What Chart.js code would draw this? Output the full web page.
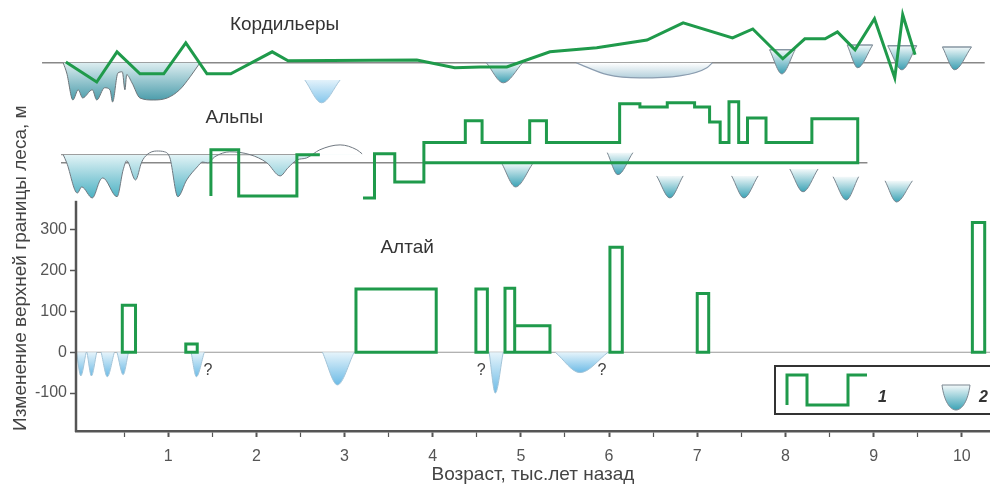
<!DOCTYPE html>
<html lang="ru">
<head>
  <meta charset="UTF-8">
  <title>Изменение верхней границы леса</title>
  <script src="https://cdn.jsdelivr.net/npm/chart.js"></script>
  <style>
    body { margin: 0; background: #fff; }
    canvas { display: block; }
  </style>
</head>
<body>
  <canvas id="grafico" width="990" height="484"></canvas>
  <script>
    // ось X: возраст, тыс. лет назад
    const xMin = -0.045, xMax = 10.32;
    const xTicks = [0.5, 1, 1.5, 2, 2.5, 3, 3.5, 4, 4.5, 5, 5.5, 6, 6.5, 7, 7.5, 8, 8.5, 9, 9.5, 10];
    const yTicks = [-100, 0, 100, 200, 300];
    const yAxisTop = 371;

    // Кордильеры: граница леса [возраст, изменение]
    const cordLine = [[-0.16, 2], [0.19, -47], [0.42, 27], [0.68, -27], [0.95, -27], [1.20, 49], [1.44, -27], [1.71, -27],
      [2.18, 27], [2.36, 5], [3.82, 7], [4.25, -12], [4.54, -10], [4.84, -10], [5.33, 27], [5.86, 37], [6.43, 56],
      [6.84, 98], [7.40, 61], [7.63, 83], [7.97, 10], [8.22, 59], [8.45, 59], [8.59, 76], [8.79, 32], [9.01, 108],
      [9.24, -37], [9.33, 118], [9.47, 20]];
    // Кордильеры: ледники
    const cordIce = [[-0.19, 0], [-0.15, -25], [-0.08, -91], [-0.02, -66], [0.03, -86], [0.14, -66], [0.19, -91],
      [0.28, -61], [0.34, -66], [0.37, -96], [0.43, -25], [0.48, -22], [0.51, -66], [0.53, -29], [0.59, -49],
      [0.68, -86], [0.83, -91], [0.99, -86], [1.13, -66], [1.25, -34], [1.36, 0]];
    const cordLens = [[5.63, 0], [5.98, -29], [6.35, -37], [6.80, -32], [7.11, -12], [7.17, 0]];
    // [от, центр, до, верх, низ]
    const cordCups = [[4.61, 4.80, 5.02, 0, -49], [7.82, 7.96, 8.11, 32, -27], [8.70, 8.82, 8.99, 44, -12],
      [9.16, 9.32, 9.49, 42, -17], [9.78, 9.92, 10.11, 39, -17]];
    const cordCupsLight = [[2.55, 2.74, 2.95, -42, -98]];
    const cordBase = [-0.43, 10.26];

    // Альпы
    const alpsLine = [[1.485, -81], [1.485, 32], [1.80, 32], [1.80, -81], [2.46, -81], [2.46, 20], [2.72, 20], [2.72, null],
      [3.21, -86], [3.34, -86], [3.34, 22], [3.57, 22], [3.57, -47], [3.90, -47], [3.90, 50], [4.37, 50], [4.37, 103],
      [4.56, 103], [4.56, 50], [5.10, 50], [5.10, 103], [5.29, 103], [5.29, 50], [6.12, 50], [6.12, 145], [6.35, 145],
      [6.35, 137], [6.66, 137], [6.66, 147], [6.97, 147], [6.97, 137], [7.14, 137], [7.14, 100], [7.26, 100], [7.26, 50],
      [7.36, 50], [7.36, 150], [7.47, 150], [7.47, 50], [7.57, 50], [7.57, 110], [7.78, 110], [7.78, 50], [8.30, 50],
      [8.30, 108], [8.82, 108], [8.82, 0], [3.90, 0]];
    const alpsIce = [[-0.19, 20], [-0.15, 0], [-0.03, -74], [0.02, -59], [0.14, -86], [0.23, -42], [0.26, -37],
      [0.42, -83], [0.49, -17], [0.53, 5], [0.63, -42], [0.70, 2], [0.76, 20], [0.87, 29], [0.96, 27], [1.02, 12],
      [1.11, -83], [1.21, -42], [1.33, -10], [1.39, 2], [1.45, 0], [1.53, 15], [1.70, 27], [1.93, 20], [2.12, 0],
      [2.27, -32], [2.36, -12], [2.46, 7], [2.57, 12], [2.72, 32], [2.95, 44], [3.14, 32], [3.20, 22]];
    const alpsIceLevel = 20;
    const alpsCups = [[4.78, 4.94, 5.14, 0, -59], [5.98, 6.10, 6.27, 25, -29], [6.54, 6.69, 6.84, -32, -86],
      [7.39, 7.53, 7.69, -32, -86], [8.05, 8.20, 8.37, -15, -71], [8.54, 8.69, 8.83, -34, -91], [9.13, 9.26, 9.44, -44, -96]];
    const alpsBase = [-0.215, 8.93];

    // Алтай: [от, до, высота]
    const altaiBoxes = [[0.48, 0.63, 115], [1.20, 1.33, 20], [3.13, 4.04, 155], [4.49, 4.62, 155], [4.82, 4.93, 157],
      [4.93, 5.33, 65], [6.01, 6.15, 257], [7.00, 7.13, 144], [10.12, 10.26, 318]];
    const altaiCups = [[-0.04, 0.01, 0.07, 0, -58], [0.08, 0.13, 0.19, 0, -58], [0.24, 0.31, 0.39, 0, -60],
      [0.42, 0.49, 0.55, 0, -55], [1.26, 1.32, 1.41, 0, -60], [2.75, 2.92, 3.11, 0, -80], [4.64, 4.71, 4.80, 0, -100],
      [5.39, 5.67, 5.99, 0, -50]];
    const altaiQuestions = [[1.45, -46], [4.55, -46], [5.92, -46]];

    const panelNames = [['Кордильеры', 2.32, 93, 'yC'], ['Альпы', 1.75, 110, 'yA'], ['Алтай', 3.71, 256, 'y']];

    const green = '#1f9a4b';
    Chart.defaults.font.family = '"Liberation Sans", Arial, sans-serif';

    const xy = arr => arr.map(p => ({ x: p[0], y: p[1] }));

    function grad(axis, top, bottom, c0, c1) {
      return (ctx) => {
        const chart = ctx.chart;
        const s = chart.scales[axis];
        if (!s || !chart.chartArea) return c1;
        const y0 = s.getPixelForValue(top), y1 = s.getPixelForValue(bottom);
        if (!isFinite(y0) || !isFinite(y1) || y0 === y1) return c1;
        const g = chart.ctx.createLinearGradient(0, y0, 0, y1);
        g.addColorStop(0, c0);
        g.addColorStop(1, c1);
        return g;
      };
    }

    function base(data, axis, extra) {
      return Object.assign({
        data, yAxisID: axis, borderColor: green, borderWidth: 3, pointRadius: 0, pointHoverRadius: 0,
        fill: false, tension: 0, clip: false, borderJoinStyle: 'miter'
      }, extra);
    }

    function cup(c, axis, c0, c1, edge) {
      return base([{ x: c[0], y: c[3] }, { x: c[1], y: c[4] }, { x: c[2], y: c[3] }], axis, {
        borderColor: edge, borderWidth: 1, cubicInterpolationMode: 'monotone',
        fill: { target: { value: c[3] } }, backgroundColor: grad(axis, c[3], c[4], c0, c1)
      });
    }

    function boxes(list) {
      const out = [];
      list.forEach(b => {
        out.push({ x: b[0], y: 0 }, { x: b[0], y: b[2] }, { x: b[1], y: b[2] }, { x: b[1], y: 0 }, { x: b[0], y: 0 }, { x: b[1], y: null });
      });
      return out;
    }

    function tops(list) {
      const out = [];
      list.forEach(c => out.push({ x: c[0], y: c[3] }, { x: c[2], y: c[3] }, { x: c[2], y: null }));
      return out;
    }

    const minOf = arr => Math.min(...arr.map(p => p[1]));

    const datasets = [
      base(xy(cordLine), 'yC'),
      base(xy(alpsLine), 'yA'),
      base(boxes(altaiBoxes), 'y', { borderCapStyle: 'square' }),
      base(tops(cordCups), 'yC', { borderColor: '#8796a3', borderWidth: 1.5 }),
      ...cordCups.map(c => cup(c, 'yC', '#f3f9fa', '#3b9fb2', '#7b8791')),
      ...cordCupsLight.map(c => cup(c, 'yC', '#e3f2fb', '#86c7ec', '#a7c6da')),
      base(xy(cordLens), 'yC', {
        borderColor: '#8b9db0', borderWidth: 1.2, cubicInterpolationMode: 'monotone',
        fill: { target: { value: 0 } }, backgroundColor: grad('yC', 0, minOf(cordLens), '#ffffff', '#b3cfdb')
      }),
      base(xy(cordIce), 'yC', {
        borderColor: '#6c7479', borderWidth: 1, cubicInterpolationMode: 'monotone',
        fill: { target: { value: 0 } }, backgroundColor: grad('yC', 0, minOf(cordIce), '#dcedf0', '#4599a8')
      }),
      ...alpsCups.map(c => cup(c, 'yA', '#f3f9fa', '#3ba3b6', '#7b8791')),
      base(xy(alpsIce), 'yA', {
        borderColor: '#707880', borderWidth: 1, cubicInterpolationMode: 'monotone',
        fill: { target: { value: alpsIceLevel }, above: 'rgba(0,0,0,0)' },
        backgroundColor: grad('yA', alpsIceLevel, minOf(alpsIce), '#e2f3f6', '#4cb1c3')
      }),
      ...altaiCups.map(c => cup(c, 'y', '#e6f4fb', '#6dbbe6', '#a3c4d8')),
      base([{ x: alpsBase[0], y: alpsIceLevel }, { x: 2.72, y: alpsIceLevel }], 'yA', { borderColor: '#999', borderWidth: 1.2 }),
      base([{ x: cordBase[0], y: 0 }, { x: cordBase[1], y: 0 }], 'yC', { borderColor: '#888', borderWidth: 1.5 }),
      base([{ x: alpsBase[0], y: 0 }, { x: alpsBase[1], y: 0 }], 'yA', { borderColor: '#888', borderWidth: 1.5 }),
      base([{ x: xMin, y: 0 }, { x: xMax, y: 0 }], 'y', { borderColor: '#999', borderWidth: 1.2 })
    ];

    // заливки ледников слева от оси
    const wideArea = {
      id: 'wideArea',
      beforeDatasetsDraw(chart) { chart.$left = chart.chartArea.left; chart.chartArea.left = 0; },
      afterDatasetsDraw(chart) { chart.chartArea.left = chart.$left; }
    };

    const decor = {
      id: 'decor',
      afterDraw(chart) {
        const { ctx, chartArea: a, scales } = chart;
        ctx.save();
        // ось Y
        ctx.strokeStyle = '#555';
        ctx.lineWidth = 2.5;
        ctx.beginPath();
        ctx.moveTo(a.left, a.bottom + 1);
        ctx.lineTo(a.left, scales.y.getPixelForValue(yAxisTop));
        ctx.stroke();

        // подписи панелей
        ctx.fillStyle = '#333';
        ctx.font = '19px "Liberation Sans", Arial, sans-serif';
        ctx.textAlign = 'center';
        ctx.textBaseline = 'middle';
        panelNames.forEach(p => {
          ctx.fillText(p[0], scales.x.getPixelForValue(p[1]), scales[p[3]].getPixelForValue(p[2]));
        });

        ctx.font = '16px "Liberation Sans", Arial, sans-serif';
        ctx.fillStyle = '#444';
        altaiQuestions.forEach(q => {
          ctx.fillText('?', scales.x.getPixelForValue(q[0]), scales.y.getPixelForValue(q[1]));
        });

        // легенда
        const L = a.right - 215, T = a.bottom - 65, B = a.bottom - 17;
        ctx.fillStyle = '#fff';
        ctx.fillRect(L, T, 240, B - T);
        ctx.strokeStyle = '#333';
        ctx.lineWidth = 2;
        ctx.strokeRect(L, T, 240, B - T);
        ctx.strokeStyle = green;
        ctx.lineWidth = 3;
        ctx.lineJoin = 'miter';
        ctx.beginPath();
        ctx.moveTo(L + 12, T + 39);
        ctx.lineTo(L + 12, T + 9);
        ctx.lineTo(L + 32, T + 9);
        ctx.lineTo(L + 32, T + 39);
        ctx.lineTo(L + 73, T + 39);
        ctx.lineTo(L + 73, T + 9);
        ctx.lineTo(L + 92, T + 9);
        ctx.stroke();

        const x0 = L + 167, x1 = L + 195, xc = L + 181, y0 = T + 19, yb = T + 44;
        const g = ctx.createLinearGradient(0, y0, 0, yb);
        g.addColorStop(0, '#f3f9fa');
        g.addColorStop(1, '#3ba3b6');
        ctx.beginPath();
        ctx.moveTo(x0, y0);
        ctx.lineTo(x1, y0);
        ctx.bezierCurveTo(x1 - 2, y0 + 16, xc + 6, yb, xc, yb);
        ctx.bezierCurveTo(xc - 6, yb, x0 + 2, y0 + 16, x0, y0);
        ctx.closePath();
        ctx.fillStyle = g;
        ctx.fill();
        ctx.strokeStyle = '#7b8791';
        ctx.lineWidth = 1;
        ctx.stroke();

        ctx.fillStyle = '#333';
        ctx.font = 'italic bold 16px "Liberation Sans", Arial, sans-serif';
        ctx.textAlign = 'left';
        ctx.fillText('1', L + 103, T + 32);
        ctx.fillText('2', L + 204, T + 32);
        ctx.restore();
      }
    };

    const grafico = new Chart(document.getElementById('grafico'), {
      type: 'line',
      data: { datasets },
      plugins: [wideArea, decor],
      options: {
        responsive: false,
        animation: false,
        events: [],
        layout: { padding: 0 },
        plugins: { legend: { display: false }, tooltip: { enabled: false } },
        scales: {
          x: {
            type: 'linear',
            bounds: 'data',
            afterDataLimits: s => { s.min = xMin; s.max = xMax; },
            afterBuildTicks: s => { s.ticks = xTicks.map(v => ({ value: v })); },
            afterFit: s => { s.height = 53; s.paddingLeft = 0; s.paddingRight = 0; },
            border: { color: '#555', width: 2.5 },
            grid: {
              drawOnChartArea: false, tickLength: 6, tickColor: '#555',
              tickWidth: c => (c.tick && Number.isInteger(c.tick.value)) ? 2 : 1.2
            },
            ticks: {
              color: '#555', font: { size: 16 }, padding: 10, maxRotation: 0, autoSkip: false,
              callback: v => Number.isInteger(v) ? String(v) : ''
            },
            title: {
              display: true, text: 'Возраст, тыс.лет назад', color: '#444',
              font: { size: 19, lineHeight: 1 }, padding: { top: 0, bottom: 0 }
            }
          },
          y: {
            min: -193, max: 863, bounds: 'data',
            afterBuildTicks: s => { s.ticks = yTicks.map(v => ({ value: v })); },
            afterFit: s => { s.width = 76; s.paddingTop = 0; s.paddingBottom = 0; },
            border: { display: false },
            grid: { drawOnChartArea: false, tickLength: 6, tickColor: '#555', tickWidth: 1.5 },
            ticks: { color: '#555', font: { size: 16 }, padding: 3, autoSkip: false },
            title: {
              display: true, align: 'start', text: 'Изменение верхней границы леса, м', color: '#444',
              font: { size: 19 }, padding: { top: 9, bottom: 0 }
            }
          },
          yA: { display: false, min: -657, max: 399, bounds: 'data' },
          yC: { display: false, min: -902, max: 154, bounds: 'data' }
        }
      }
    });
  </script>
</body>
</html>
